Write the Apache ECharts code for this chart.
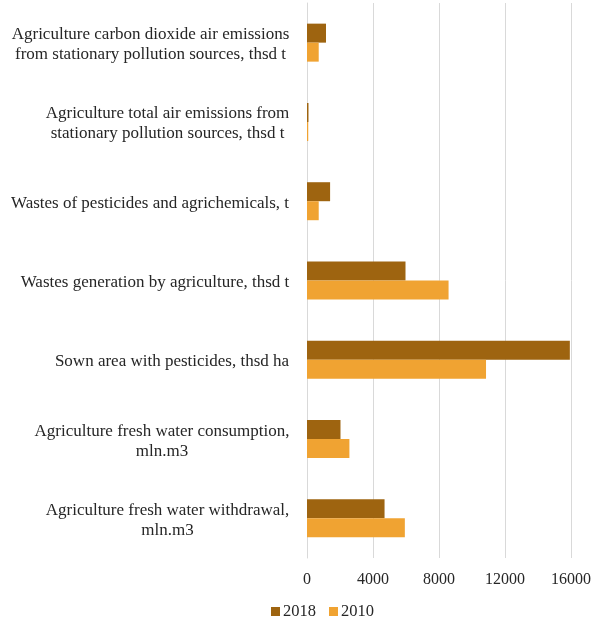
<!DOCTYPE html>
<html>
<head>
<meta charset="utf-8">
<script src="https://cdn.jsdelivr.net/npm/echarts@6/dist/echarts.min.js"></script>
<style>
  html, body { margin: 0; padding: 0; background: #ffffff; }
  #chart { width: 599px; height: 619px; }
</style>
</head>
<body>
<div id="chart"></div>
<script>
// Categories listed from the bottom of the value axis upwards
const categories = [
  'Agriculture fresh water withdrawal,\nmln.m3',
  'Agriculture fresh water consumption,\nmln.m3',
  'Sown area with pesticides, thsd ha',
  'Wastes generation by agriculture, thsd t',
  'Wastes of pesticides and agrichemicals, t',
  'Agriculture total air emissions from\nstationary pollution sources, thsd t',
  'Agriculture carbon dioxide air emissions\nfrom stationary pollution sources, thsd t'
];
const values2018 = [4700, 2030, 15930, 5970, 1400, 90, 1150];
const values2010 = [5930, 2570, 10850, 8580, 710, 75, 710];
const seriesNames = ['2018', '2010'];
const valueTicks = [0, 4000, 8000, 12000, 16000];

const FONT = '"Liberation Serif", "Times New Roman", serif';
const LABEL_SIZE = 17;
const TEXT_COLOR = '#262626';

// Each multi-line category label gets its own rich style whose width is its
// widest line, so the lines are centred on each other while the block sits
// right-aligned against the axis.
const measureCtx = document.createElement('canvas').getContext('2d');
measureCtx.font = LABEL_SIZE + 'px ' + FONT;
const richStyles = {};
categories.forEach((c, i) => {
  const w = Math.max(...c.split('\n').map(l => measureCtx.measureText(l).width));
  richStyles['c' + i] = {
    width: Math.ceil(w) + 1,
    align: 'center',
    fontFamily: FONT,
    fontSize: LABEL_SIZE,
    lineHeight: 20,
    color: TEXT_COLOR
  };
});

const chart = echarts.init(document.getElementById('chart'), null, { renderer: 'canvas' });
chart.setOption({
  animation: false,
  backgroundColor: '#ffffff',
  textStyle: { fontFamily: FONT },
  grid: { left: 307, right: 28, top: 3, bottom: 61, containLabel: false },
  legend: {
    data: seriesNames,
    top: 603,
    left: 271,
    padding: 0,
    itemWidth: 9,
    itemHeight: 9,
    itemGap: 13,
    icon: 'rect',
    textStyle: { fontFamily: FONT, fontSize: 16.5, color: TEXT_COLOR, padding: [0, 0, 0, -2] }
  },
  xAxis: {
    type: 'value',
    min: valueTicks[0],
    max: valueTicks[valueTicks.length - 1],
    interval: valueTicks[1] - valueTicks[0],
    axisLine: { show: false },
    axisTick: { show: false },
    splitLine: { show: true, lineStyle: { color: '#d9d9d9', width: 1 } },
    axisLabel: {
      fontFamily: FONT, fontSize: 16, color: TEXT_COLOR, margin: 14,
      formatter: v => String(v)
    }
  },
  yAxis: {
    type: 'category',
    data: categories,
    axisLine: { show: true, lineStyle: { color: '#d9d9d9', width: 1 } },
    axisTick: { show: false },
    axisLabel: {
      margin: 17,
      align: 'right',
      interval: 0,
      padding: [4, 0, 0, 0],
      formatter: (value, idx) => value.split('\n').map(l => '{c' + idx + '|' + l + '}').join('\n'),
      rich: richStyles
    }
  },
  series: [
    {
      name: seriesNames[0],
      type: 'bar',
      data: values2018,
      barWidth: 19,
      barGap: '0%',
      itemStyle: { color: '#9e6410' }
    },
    {
      name: seriesNames[1],
      type: 'bar',
      data: values2010,
      barWidth: 19,
      barGap: '0%',
      itemStyle: { color: '#f0a332' }
    }
  ]
});
</script>
</body>
</html>
